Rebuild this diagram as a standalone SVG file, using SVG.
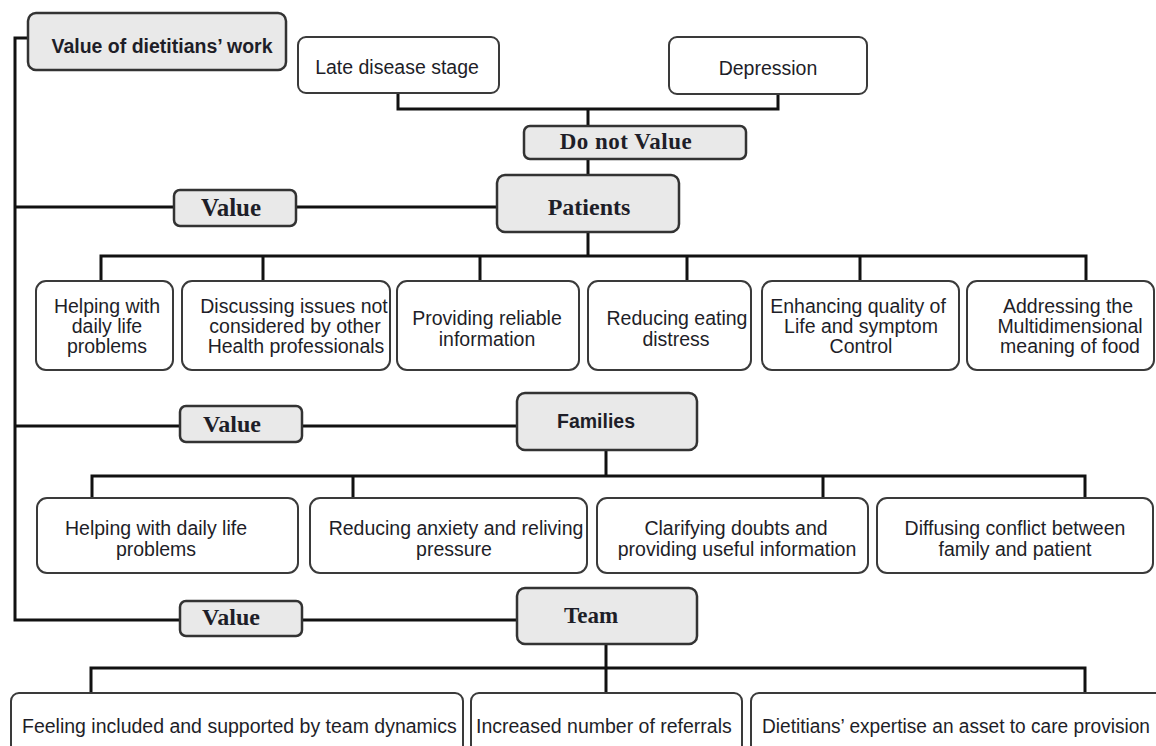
<svg xmlns="http://www.w3.org/2000/svg" width="1156" height="746" viewBox="0 0 1156 746">
<style>
.box{fill:#ffffff;stroke:#3a3a3a;stroke-width:2}
.gbox{fill:#e9e9e9;stroke:#333333;stroke-width:2.5}
.t{font-family:"Liberation Sans",Arial,sans-serif;font-size:19.5px;fill:#1e1e28;text-anchor:middle}
.tb{font-family:"Liberation Sans",Arial,sans-serif;font-size:19.5px;font-weight:bold;fill:#1e1e28;text-anchor:middle}
.ts{font-family:"Liberation Serif","Times New Roman",serif;font-weight:bold;fill:#1e1e28;text-anchor:middle}
.c{fill:none;stroke:#111111;stroke-width:3;stroke-linejoin:miter}
</style>
<rect width="1156" height="746" fill="#ffffff"/>
<g id="connectors">
<path class="c" d="M28,38 H15 V620 H180"/>
<path class="c" d="M398,93 V109 H778 V95"/>
<path class="c" d="M588,109 V126"/>
<path class="c" d="M588,159 V175"/>
<path class="c" d="M15,207 H174"/>
<path class="c" d="M296,207 H497"/>
<path class="c" d="M588,232 V256"/>
<path class="c" d="M101,281 V256 H1086 V281"/>
<path class="c" d="M263,256 V281 M480,256 V281 M687,256 V281 M860,256 V281"/>
<path class="c" d="M15,426 H180"/>
<path class="c" d="M302,426 H517"/>
<path class="c" d="M606,450 V476"/>
<path class="c" d="M92,498 V476 H1085 V498"/>
<path class="c" d="M353,476 V498 M823,476 V498"/>
<path class="c" d="M302,620 H517"/>
<path class="c" d="M606,644 V693"/>
<path class="c" d="M91,693 V668 H1085 V693"/>
</g>
<g id="value-of-dietitians-work">
<rect class="gbox" x="28" y="13" width="258" height="57" rx="8"/>
<text class="tb" x="162" y="53">Value of dietitians’ work</text>
</g>
<g id="late-disease-stage">
<rect class="box" x="298" y="37" width="201" height="56" rx="8"/>
<text class="t" x="397" y="74">Late disease stage</text>
</g>
<g id="depression">
<rect class="box" x="669" y="37" width="198" height="57" rx="8"/>
<text class="t" x="768" y="75">Depression</text>
</g>
<g id="do-not-value">
<rect class="gbox" x="524" y="126" width="222" height="33" rx="6"/>
<text class="ts" x="626" y="149" font-size="23" letter-spacing="0.5">Do not Value</text>
</g>
<g id="patients">
<rect class="gbox" x="497" y="175" width="182" height="57" rx="8"/>
<text class="ts" x="589" y="215" font-size="24">Patients</text>
</g>
<g id="value-patients">
<rect class="gbox" x="174" y="190" width="122" height="36" rx="6"/>
<text class="ts" x="231" y="216" font-size="25">Value</text>
</g>
<g id="p-helping">
<rect class="box" x="36" y="281" width="137" height="89" rx="10"/>
<text class="t" x="107" y="313">Helping with</text>
<text class="t" x="107" y="333">daily life</text>
<text class="t" x="107" y="353">problems</text>
</g>
<g id="p-discussing">
<rect class="box" x="182" y="281" width="208" height="89" rx="10"/>
<text class="t" x="294" y="313">Discussing issues not</text>
<text class="t" x="295" y="333">considered by other</text>
<text class="t" x="296" y="353">Health professionals</text>
</g>
<g id="p-providing">
<rect class="box" x="397" y="281" width="182" height="89" rx="10"/>
<text class="t" x="487" y="325">Providing reliable</text>
<text class="t" x="487" y="346">information</text>
</g>
<g id="p-reducing">
<rect class="box" x="588" y="281" width="163" height="89" rx="10"/>
<text class="t" x="677" y="325">Reducing eating</text>
<text class="t" x="676" y="346">distress</text>
</g>
<g id="p-enhancing">
<rect class="box" x="762" y="281" width="197" height="89" rx="10"/>
<text class="t" x="858" y="313">Enhancing quality of</text>
<text class="t" x="861" y="333">Life and symptom</text>
<text class="t" x="861" y="353">Control</text>
</g>
<g id="p-addressing">
<rect class="box" x="967" y="281" width="187" height="89" rx="10"/>
<text class="t" x="1068" y="313">Addressing the</text>
<text class="t" x="1070" y="333">Multidimensional</text>
<text class="t" x="1070" y="353">meaning of food</text>
</g>
<g id="value-families">
<rect class="gbox" x="180" y="406" width="122" height="36" rx="6"/>
<text class="ts" x="232" y="432" font-size="24">Value</text>
</g>
<g id="families">
<rect class="gbox" x="517" y="393" width="180" height="57" rx="8"/>
<text class="tb" x="596" y="428">Families</text>
</g>
<g id="f-helping">
<rect class="box" x="37" y="498" width="261" height="75" rx="10"/>
<text class="t" x="156" y="535">Helping with daily life</text>
<text class="t" x="156" y="556">problems</text>
</g>
<g id="f-reducing">
<rect class="box" x="310" y="498" width="277" height="75" rx="10"/>
<text class="t" x="456" y="535">Reducing anxiety and reliving</text>
<text class="t" x="454" y="556">pressure</text>
</g>
<g id="f-clarifying">
<rect class="box" x="597" y="498" width="271" height="75" rx="10"/>
<text class="t" x="736" y="535">Clarifying doubts and</text>
<text class="t" x="737" y="556">providing useful information</text>
</g>
<g id="f-diffusing">
<rect class="box" x="877" y="498" width="276" height="75" rx="10"/>
<text class="t" x="1015" y="535">Diffusing conflict between</text>
<text class="t" x="1015" y="556">family and patient</text>
</g>
<g id="value-team">
<rect class="gbox" x="180" y="601" width="122" height="35" rx="6"/>
<text class="ts" x="231" y="625" font-size="24">Value</text>
</g>
<g id="team">
<rect class="gbox" x="517" y="588" width="180" height="56" rx="8"/>
<text class="ts" x="591" y="623" font-size="23">Team</text>
</g>
<g id="t-feeling">
<rect class="box" x="11" y="693" width="452" height="70" rx="8"/>
<text class="t" x="22" y="733" style="text-anchor:start">Feeling included and supported by team dynamics</text>
</g>
<g id="t-increased">
<rect class="box" x="471" y="693" width="271" height="70" rx="8"/>
<text class="t" x="476" y="733" style="text-anchor:start">Increased number of referrals</text>
</g>
<g id="t-expertise">
<rect class="box" x="751" y="693" width="420" height="70" rx="8"/>
<text class="t" x="762" y="733" style="text-anchor:start" textLength="388" lengthAdjust="spacingAndGlyphs">Dietitians’ expertise an asset to care provision</text>
</g>
</svg>
